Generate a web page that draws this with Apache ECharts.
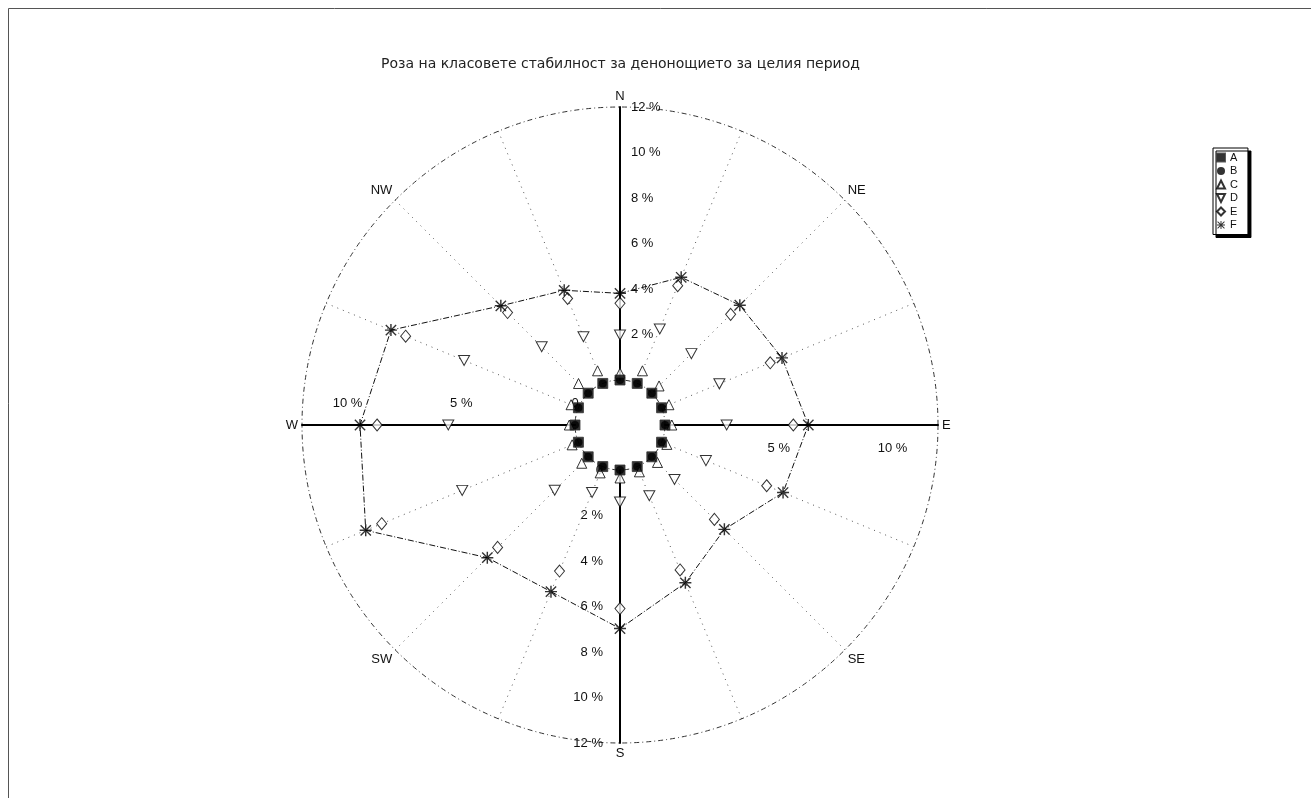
<!DOCTYPE html>
<html>
<head>
<meta charset="utf-8">
<script src="https://cdn.jsdelivr.net/npm/echarts@6/dist/echarts.min.js"></script>
<style>
  html, body { margin: 0; padding: 0; background: #fff; }
  #chart { width: 1311px; height: 798px; }
</style>
</head>
<body>
<div id="chart"></div>
<script>
// Stability-class rose: frequency (%) of each Pasquill class per wind direction.
const TITLE = 'Роза на класовете стабилност за денонощието за целия период';

const DIRECTIONS = ['N', 'NNE', 'NE', 'ENE', 'E', 'ESE', 'SE', 'SSE',
                    'S', 'SSW', 'SW', 'WSW', 'W', 'WNW', 'NW', 'NNW'];

const CLASS_NAMES = ['A', 'B', 'C', 'D', 'E', 'F'];

// Values in %, one per direction, N first, clockwise
const classA = [0, 0, 0, 0, 0, 0, 0, 0, 0, 0, 0, 0, 0, 0, 0, 0];
const classB = [0, 0, 0, 0, 0, 0, 0, 0, 0, 0, 0, 0, 0, 0, 0, 0];
const classC = [0.3, 0.6, 0.45, 0.35, 0.3, 0.25, 0.35, 0.25, 0.35, 0.3, 0.4, 0.3, 0.25, 0.35, 0.6, 0.6];
const classD = [1.98, 2.59, 2.46, 2.75, 2.71, 2.11, 1.41, 1.39, 1.41, 1.23, 2.08, 5.53, 5.57, 5.44, 2.89, 2.22];
const classE = [3.37, 4.65, 4.90, 5.17, 5.64, 5.00, 3.89, 4.92, 6.09, 4.97, 5.63, 9.36, 8.70, 8.22, 5.01, 4.04];
const classF = [3.81, 5.05, 5.47, 5.73, 6.30, 5.78, 4.51, 5.53, 6.97, 5.95, 6.27, 10.12, 9.45, 8.92, 5.43, 4.43];

// Tick labels written along each of the four main axes
const NORTH_TICKS = [2, 4, 6, 8, 10, 12];
const SOUTH_TICKS = [0, 2, 4, 6, 8, 10, 12];
const WEST_TICKS = [0, 5, 10];
const EAST_TICKS = [5, 10];
const RADIUS_MAX = 12;

const CENTER = [620, 425];
const RADIUS = [45, 318];
const STEP = 360 / DIRECTIONS.length;
const FONT = 'Liberation Sans, Arial, sans-serif';

const toPolar = vals => vals.map((v, i) => [v, i * STEP]);

const SYMBOL_DOWN = 'path://M0,0L10,0L5,10Z';
const SYMBOL_STAR = 'path://M0,4.4H10V5.6H0Z M4.4,0H5.6V10H4.4Z M1.1,0.3L9.7,8.9L8.9,9.7L0.3,1.1Z M8.9,0.3L9.7,1.1L1.1,9.7L0.3,8.9Z';

const tickText = (list, v) => list.indexOf(v) < 0 ? '' : (v === 0 ? '0' : v + ' %');

// One polar per main axis, all sharing the same centre and radius,
// so each of N / E / S / W gets its own radial scale with labels.
// A negative margin puts the labels on the opposite side of the axis line.
const AXIS_SETUP = [
  { start: 90, ticks: NORTH_TICKS, margin: -11, align: 'left', vAlign: 'middle' },
  { start: 0, ticks: EAST_TICKS, margin: -17, align: 'center', vAlign: 'top' },
  { start: 270, ticks: SOUTH_TICKS, margin: -17, align: 'right', vAlign: 'middle' },
  { start: 180, ticks: WEST_TICKS, margin: -15, align: 'center', vAlign: 'bottom' }
];

const polar = AXIS_SETUP.map(() => ({ center: CENTER, radius: RADIUS }));

const angleAxis = AXIS_SETUP.map((a, k) => k === 0 ? {
  polarIndex: 0,
  type: 'value', min: 0, max: 360, interval: STEP,
  startAngle: 90, clockwise: true,
  axisLine: { show: true, lineStyle: { color: '#333', width: 1, type: [5, 3, 1, 3] } },
  axisTick: { show: false },
  axisLabel: {
    margin: 4, color: '#111', fontSize: 13, fontFamily: FONT,
    formatter: v => {
      const i = Math.round(v / STEP) % DIRECTIONS.length;
      return i % 2 === 0 ? DIRECTIONS[i] : '';
    }
  },
  splitLine: { show: true, lineStyle: { color: '#555', width: 1, type: [1, 5] } }
} : {
  polarIndex: k, type: 'value', min: 0, max: 360, startAngle: a.start, show: false
});

const radiusAxis = AXIS_SETUP.map((a, k) => ({
  polarIndex: k,
  type: 'value', min: 0, max: RADIUS_MAX, interval: 1,
  axisLine: { show: true, lineStyle: { color: '#000', width: 2 } },
  axisTick: { show: false },
  splitLine: { show: false },
  splitArea: { show: false },
  axisLabel: {
    margin: a.margin, align: a.align, verticalAlign: a.vAlign,
    color: '#111', fontSize: 13, fontFamily: FONT,
    formatter: v => tickText(a.ticks, v)
  },
  z: 3
}));

const outline = { color: '#fff', borderColor: '#000', borderWidth: 1 };

const series = [
  {
    name: 'F outline', type: 'line', coordinateSystem: 'polar', polarIndex: 0,
    data: toPolar(classF).concat([[classF[0], 360]]),
    symbol: 'none', silent: true, z: 1,
    lineStyle: { color: '#111', width: 1, type: [6, 2, 1, 2] }
  },
  { name: 'B', type: 'scatter', coordinateSystem: 'polar', polarIndex: 0, data: toPolar(classB),
    symbol: 'circle', symbolSize: 8, itemStyle: { color: '#000' }, z: 2 },
  { name: 'A', type: 'scatter', coordinateSystem: 'polar', polarIndex: 0, data: toPolar(classA),
    symbol: 'rect', symbolSize: 10, itemStyle: { color: '#000', borderColor: '#333', borderWidth: 1 }, z: 4 },
  { name: 'C', type: 'scatter', coordinateSystem: 'polar', polarIndex: 0, data: toPolar(classC),
    symbol: 'triangle', symbolSize: [10, 10], itemStyle: outline, z: 3 },
  { name: 'D', type: 'scatter', coordinateSystem: 'polar', polarIndex: 0, data: toPolar(classD),
    symbol: SYMBOL_DOWN, symbolSize: [11, 10], itemStyle: outline, z: 3 },
  { name: 'E', type: 'scatter', coordinateSystem: 'polar', polarIndex: 0, data: toPolar(classE),
    symbol: 'diamond', symbolSize: [10, 12], itemStyle: outline, z: 3 },
  { name: 'F', type: 'scatter', coordinateSystem: 'polar', polarIndex: 0, data: toPolar(classF),
    symbol: SYMBOL_STAR, symbolSize: 12, itemStyle: { color: '#000' }, z: 3 }
];

const LEGEND_ICONS = ['rect', 'circle', 'triangle', SYMBOL_DOWN, 'diamond', SYMBOL_STAR];

const option = {
  backgroundColor: '#fff',
  animation: false,
  title: {
    text: TITLE, left: 376, top: 52,
    textStyle: { fontSize: 14, fontWeight: 'normal', color: '#222', fontFamily: 'DejaVu Sans, sans-serif' }
  },
  legend: {
    orient: 'vertical', left: 1213, top: 148,
    data: CLASS_NAMES.map((n, i) => ({ name: n, icon: LEGEND_ICONS[i] })),
    itemWidth: 8, itemHeight: 8, itemGap: 2.5,
    padding: [4, 10, 4, 3],
    textStyle: { fontSize: 11, color: '#111', fontFamily: FONT },
    borderColor: '#000', borderWidth: 1, backgroundColor: '#fff',
    shadowColor: '#000', shadowOffsetX: 3, shadowOffsetY: 3, shadowBlur: 0.01,
    selectedMode: false
  },
  graphic: [{
    type: 'rect', silent: true, z: -1,
    shape: { x: 8.5, y: 8.5, width: 1400, height: 900 },
    style: { fill: 'none', stroke: '#555', lineWidth: 1 }
  }],
  polar, angleAxis, radiusAxis, series
};

const chart = echarts.init(document.getElementById('chart'), null, { renderer: 'canvas' });
chart.setOption(option);
</script>
</body>
</html>
